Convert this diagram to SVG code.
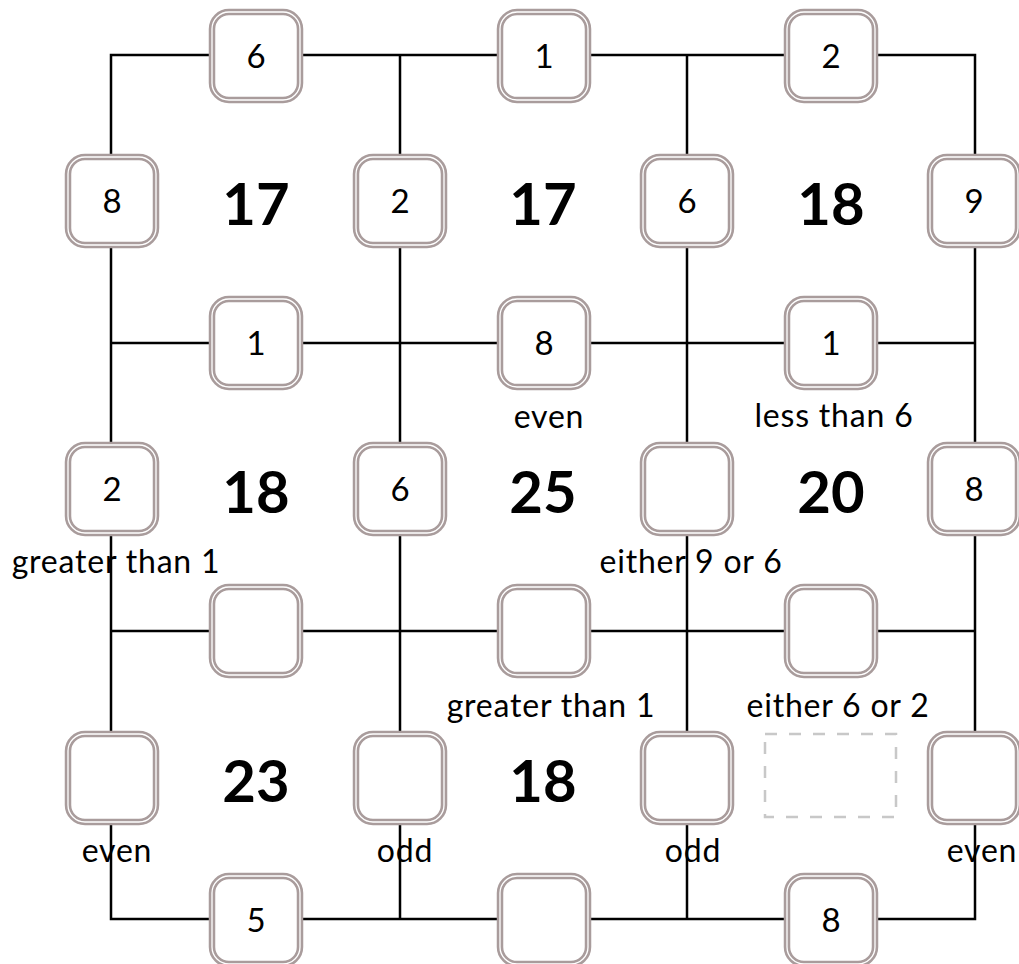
<svg xmlns="http://www.w3.org/2000/svg" width="1019" height="964" viewBox="0 0 1019 964">
<style>
.lbl{font-family:Lato,"Noto Sans",sans-serif;font-size:32px;letter-spacing:0.8px;fill:#000;text-anchor:middle}
.num{font-family:Lato,"Noto Sans",sans-serif;font-size:33px;fill:#000;text-anchor:middle}
.big{font-family:Lato,"Liberation Sans",sans-serif;font-size:58px;font-weight:bold;fill:#000;text-anchor:middle}
.line{stroke:#000;stroke-width:2.5;fill:none}
.bo{fill:#fff;stroke:#a99c9c;stroke-width:6.5}
.bi{fill:none;stroke:#fff;stroke-width:1.3}
</style>
<defs>
<g id="box">
<rect class="bo" x="-44" y="-44" width="88" height="88" rx="17"/>
<rect class="bi" x="-44" y="-44" width="88" height="88" rx="17"/>
</g>
</defs>
<rect width="1019" height="964" fill="#fff"/>
<g id="labels">
<text class="lbl" x="549" y="428">even</text>
<text class="lbl" x="834" y="427">less than 6</text>
<text class="lbl" x="116" y="573">greater than 1</text>
<text class="lbl" x="691" y="573">either 9 or 6</text>
<text class="lbl" x="551" y="717">greater than 1</text>
<text class="lbl" x="838" y="717">either 6 or 2</text>
<text class="lbl" x="117" y="862">even</text>
<text class="lbl" x="405" y="862">odd</text>
<text class="lbl" x="693" y="862">odd</text>
<text class="lbl" x="982" y="862">even</text>
</g>
<g id="connectors">
<rect class="line" x="111" y="55" width="864" height="864"/>
<line class="line" x1="400" y1="55" x2="400" y2="919"/>
<line class="line" x1="687" y1="55" x2="687" y2="919"/>
<line class="line" x1="111" y1="343" x2="975" y2="343"/>
<line class="line" x1="111" y1="631" x2="975" y2="631"/>
</g>
<g id="sums">
<text class="big" x="256" y="225">17</text>
<text class="big" x="543" y="225">17</text>
<text class="big" x="831" y="225">18</text>
<text class="big" x="256" y="513">18</text>
<text class="big" x="543" y="513">25</text>
<text class="big" x="831" y="513">20</text>
<text class="big" x="256" y="802">23</text>
<text class="big" x="543" y="802">18</text>
</g>
<g id="h1a" transform="translate(256,56)"><use href="#box"/><text class="num" y="12">6</text></g>
<g id="h1b" transform="translate(544,56)"><use href="#box"/><text class="num" y="12">1</text></g>
<g id="h1c" transform="translate(831,56)"><use href="#box"/><text class="num" y="12">2</text></g>
<g id="v1a" transform="translate(112,201)"><use href="#box"/><text class="num" y="12">8</text></g>
<g id="v1b" transform="translate(400,201)"><use href="#box"/><text class="num" y="12">2</text></g>
<g id="v1c" transform="translate(687,201)"><use href="#box"/><text class="num" y="12">6</text></g>
<g id="v1d" transform="translate(974,201)"><use href="#box"/><text class="num" y="12">9</text></g>
<g id="h2a" transform="translate(256,343)"><use href="#box"/><text class="num" y="12">1</text></g>
<g id="h2b" transform="translate(544,343)"><use href="#box"/><text class="num" y="12">8</text></g>
<g id="h2c" transform="translate(831,343)"><use href="#box"/><text class="num" y="12">1</text></g>
<g id="v2a" transform="translate(112,489)"><use href="#box"/><text class="num" y="12">2</text></g>
<g id="v2b" transform="translate(400,489)"><use href="#box"/><text class="num" y="12">6</text></g>
<g id="v2c" transform="translate(687,489)"><use href="#box"/></g>
<g id="v2d" transform="translate(974,489)"><use href="#box"/><text class="num" y="12">8</text></g>
<g id="h3a" transform="translate(256,631)"><use href="#box"/></g>
<g id="h3b" transform="translate(544,631)"><use href="#box"/></g>
<g id="h3c" transform="translate(831,631)"><use href="#box"/></g>
<g id="v3a" transform="translate(112,778)"><use href="#box"/></g>
<g id="v3b" transform="translate(400,778)"><use href="#box"/></g>
<g id="v3c" transform="translate(687,778)"><use href="#box"/></g>
<g id="v3d" transform="translate(974,778)"><use href="#box"/></g>
<g id="h4a" transform="translate(256,920)"><use href="#box"/><text class="num" y="12">5</text></g>
<g id="h4b" transform="translate(544,920)"><use href="#box"/></g>
<g id="h4c" transform="translate(831,920)"><use href="#box"/><text class="num" y="12">8</text></g>
<g id="placeholder"><rect x="765" y="734" width="131" height="83" fill="none" stroke="#c8c8c8" stroke-width="2.5" stroke-dasharray="12 12"/></g>
</svg>
